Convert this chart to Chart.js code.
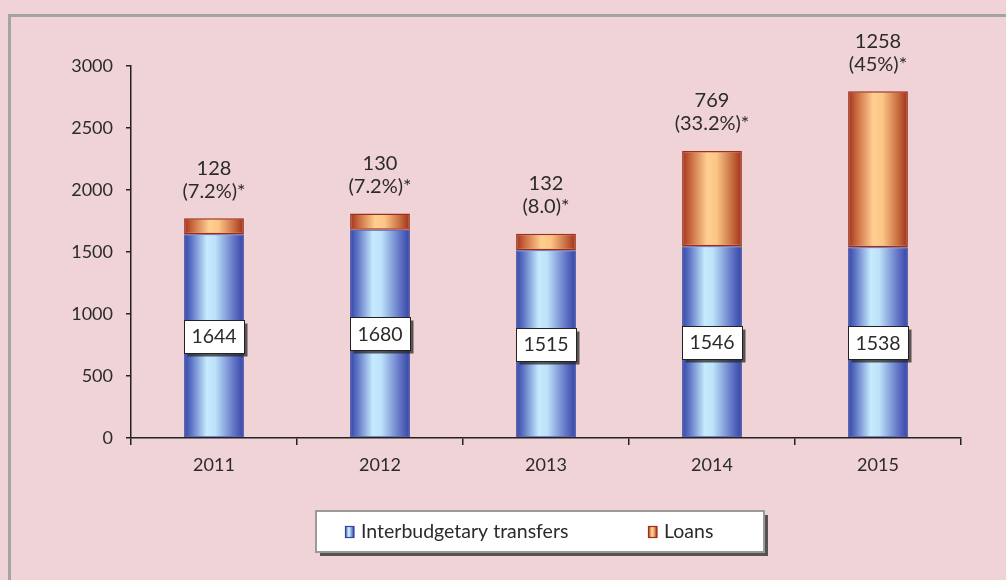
<!DOCTYPE html>
<html>
<head>
<meta charset="utf-8">
<script src="https://cdn.jsdelivr.net/npm/chart.js@4.4.1/dist/chart.umd.min.js"></script>
<style>
  html, body { margin: 0; padding: 0; background: #efd3d6; }
  #wrap { width: 1006px; height: 580px; position: relative; }
</style>
</head>
<body>
<div id="wrap"><canvas id="c" width="1006" height="580"></canvas></div>
<script>
const years = ["2011", "2012", "2013", "2014", "2015"];
const transfers = [1644, 1680, 1515, 1546, 1538];
const loans = [128, 130, 132, 769, 1258];
const loanNotes = ["(7.2%)*", "(7.2%)*", "(8.0)*", "(33.2%)*", "(45%)*"];
const seriesNames = ["Interbudgetary transfers", "Loans"];
const yTicksMax = 3000;
const yStep = 500;

const FONT = "Lato, 'Open Sans', sans-serif";
const TEXT = "#2b2b2b";
const BAR_PCT = 0.36;

const blueStops = [[0, '#3346a6'], [0.12, '#5d73c4'], [0.38, '#c6ebfd'], [0.52, '#bde2fa'], [0.82, '#6679c8'], [1, '#3244a4']];
const orangeStops = [[0, '#a2321a'], [0.14, '#c8693f'], [0.42, '#ffcf90'], [0.58, '#fbc585'], [0.86, '#c2643a'], [1, '#9d2e18']];

function makeGrad(ctx, x0, x1, stops) {
  const g = ctx.createLinearGradient(x0, 0, x1, 0);
  stops.forEach(s => g.addColorStop(s[0], s[1]));
  return g;
}

function barFill(stops, fallback) {
  return function (c) {
    const chart = c.chart;
    const xs = chart.scales && chart.scales.x;
    if (!chart.chartArea || !xs || c.dataIndex === undefined) return fallback;
    const cx = xs.getPixelForValue(c.dataIndex);
    const w = (xs.width / chart.data.labels.length) * BAR_PCT;
    return makeGrad(chart.ctx, cx - w / 2, cx + w / 2, stops);
  };
}

const framePlugin = {
  id: 'frame',
  beforeDraw(chart) {
    const ctx = chart.ctx;
    ctx.save();
    ctx.fillStyle = '#efd3d6';
    ctx.fillRect(0, 0, chart.width, chart.height);
    ctx.strokeStyle = '#a4a4a4';
    ctx.lineWidth = 3;
    ctx.beginPath();
    ctx.moveTo(9.5, chart.height);
    ctx.lineTo(9.5, 15.5);
    ctx.lineTo(chart.width, 15.5);
    ctx.stroke();
    ctx.restore();
  }
};

const labelPlugin = {
  id: 'labels',
  afterDatasetsDraw(chart) {
    const ctx = chart.ctx;
    const m0 = chart.getDatasetMeta(0);
    const m1 = chart.getDatasetMeta(1);
    const ys = chart.scales.y;
    ctx.save();
    m0.data.forEach((el, i) => {
      const cy = ys.getPixelForValue(transfers[i] / 2);
      const w = 60, h = 33;
      const x = Math.round(el.x - w / 2) + 0.5, y = Math.round(cy - h / 2) + 0.5;
      ctx.fillStyle = 'rgba(40,40,40,0.75)';
      ctx.fillRect(x + 3, y + 3, w, h);
      ctx.fillStyle = '#ffffff';
      ctx.fillRect(x, y, w, h);
      ctx.strokeStyle = '#222';
      ctx.lineWidth = 1;
      ctx.strokeRect(x, y, w, h);
      ctx.fillStyle = TEXT;
      ctx.font = "19.5px " + FONT;
      ctx.textAlign = 'center';
      ctx.textBaseline = 'middle';
      ctx.fillText(String(transfers[i]), el.x, cy + 1);
    });
    m1.data.forEach((el, i) => {
      ctx.fillStyle = TEXT;
      ctx.font = "20px " + FONT;
      ctx.textAlign = 'center';
      ctx.textBaseline = 'middle';
      ctx.fillText(loanNotes[i], el.x, el.y - 27);
      ctx.fillText(String(loans[i]), el.x, el.y - 50);
    });
    ctx.restore();
  },
  afterDraw(chart) {
    const ctx = chart.ctx;
    ctx.save();
    const bx = 316, by = 511, bw = 448, bh = 41;
    ctx.fillStyle = 'rgba(50,50,50,0.8)';
    ctx.fillRect(bx + 4, by + 4, bw, bh);
    ctx.fillStyle = '#ffffff';
    ctx.fillRect(bx, by, bw, bh);
    ctx.strokeStyle = '#9a9a9a';
    ctx.lineWidth = 2;
    ctx.strokeRect(bx, by, bw, bh);
    const items = [
      { x: 345, stops: blueStops, border: '#3244a4', label: chart.data.datasets[0].label },
      { x: 648, stops: orangeStops, border: '#9d2e18', label: chart.data.datasets[1].label }
    ];
    items.forEach(it => {
      ctx.fillStyle = makeGrad(ctx, it.x, it.x + 9, it.stops);
      ctx.fillRect(it.x, 526, 9, 12);
      ctx.strokeStyle = it.border;
      ctx.lineWidth = 1.2;
      ctx.strokeRect(it.x + 0.5, 526.5, 8.5, 11);
      ctx.fillStyle = TEXT;
      ctx.font = "19.5px " + FONT;
      ctx.textAlign = 'left';
      ctx.textBaseline = 'middle';
      ctx.fillText(it.label, it.x + 16, 532);
    });
    ctx.restore();
  }
};

new Chart(document.getElementById('c'), {
  type: 'bar',
  data: {
    labels: years,
    datasets: [
      { label: seriesNames[0], data: transfers, backgroundColor: barFill(blueStops, '#6f86d0'), borderColor: '#3244a4', borderWidth: 1, borderSkipped: false },
      { label: seriesNames[1], data: loans, backgroundColor: barFill(orangeStops, '#e09060'), borderColor: '#9d2e18', borderWidth: 1.5, borderSkipped: false }
    ]
  },
  options: {
    responsive: false,
    animation: false,
    devicePixelRatio: 1,
    layout: { padding: { left: 0, top: 66, right: 45, bottom: 0 } },
    datasets: { bar: { categoryPercentage: 1, barPercentage: BAR_PCT } },
    plugins: { legend: { display: false }, tooltip: { enabled: false } },
    scales: {
      x: {
        stacked: true,
        border: { display: true, color: '#222', width: 1.5 },
        grid: { display: true, drawOnChartArea: false, drawTicks: true, tickLength: 7, color: '#222', lineWidth: 1.5, offset: true },
        ticks: { color: TEXT, font: { family: FONT, size: 18 }, padding: 9 },
        afterFit(s) { s.height = 142; }
      },
      y: {
        stacked: true,
        min: 0, max: yTicksMax,
        border: { display: true, color: '#222', width: 1.5 },
        grid: { display: true, drawOnChartArea: false, drawTicks: true, tickLength: 5, color: '#222', lineWidth: 1.5 },
        ticks: { stepSize: yStep, color: TEXT, font: { family: FONT, size: 18 }, padding: 13, callback: v => String(v) },
        afterFit(s) { s.width = 131; }
      }
    }
  },
  plugins: [framePlugin, labelPlugin]
});
</script>
</body>
</html>
